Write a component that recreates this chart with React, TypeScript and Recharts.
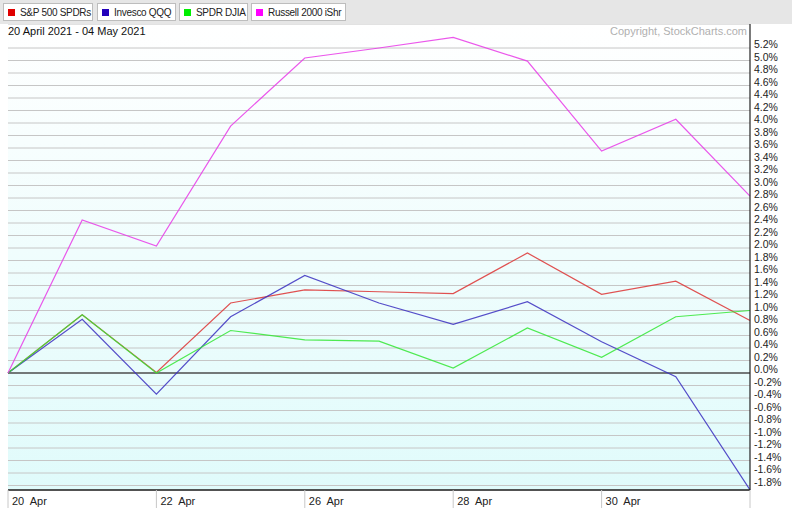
import React from "react";
import { LineChart, Line, XAxis, YAxis, CartesianGrid, ReferenceLine } from "recharts";

const categories = ["20 Apr", "21 Apr", "22 Apr", "23 Apr", "26 Apr", "27 Apr", "28 Apr", "29 Apr", "30 Apr", "3 May", "4 May"];
const spySeries = [0, 0.93, 0.01, 1.12, 1.33, 1.3, 1.27, 1.92, 1.26, 1.47, 0.84];
const qqqSeries = [0, 0.86, -0.34, 0.9, 1.56, 1.12, 0.78, 1.14, 0.5, -0.06, -1.87];
const diaSeries = [0, 0.93, 0.0, 0.68, 0.53, 0.51, 0.08, 0.72, 0.25, 0.9, 1.0];
const iwmSeries = [0, 2.45, 2.03, 3.95, 5.04, 5.2, 5.37, 4.99, 3.55, 4.06, 2.83];

const xTicks = ["20 Apr", "22 Apr", "26 Apr", "28 Apr", "30 Apr", "4 May"];
const xTickLabels: Record<string, string> = {
  "20 Apr": "20  Apr",
  "22 Apr": "22  Apr",
  "26 Apr": "26  Apr",
  "28 Apr": "28  Apr",
  "30 Apr": "30  Apr",
  "4 May": "",
};
const yTicks = [
  -1.8, -1.6, -1.4, -1.2, -1.0, -0.8, -0.6, -0.4, -0.2, 0.0, 0.2, 0.4, 0.6, 0.8, 1.0, 1.2, 1.4, 1.6, 1.8,
  2.0, 2.2, 2.4, 2.6, 2.8, 3.0, 3.2, 3.4, 3.6, 3.8, 4.0, 4.2, 4.4, 4.6, 4.8, 5.0, 5.2,
];
const yDomain = [-1.872, 5.584];

const seriesInfo = [
  { key: "spy", name: "S&P 500 SPDRs", color: "#e00000", line: "#dd3333" },
  { key: "qqq", name: "Invesco QQQ", color: "#2200bb", line: "#3a2ec0" },
  { key: "dia", name: "SPDR DJIA", color: "#00ee00", line: "#33e633" },
  { key: "iwm", name: "Russell 2000 iShr", color: "#ff00ff", line: "#e83ae8" },
];

const data = categories.map((c, i) => ({
  date: c,
  spy: spySeries[i],
  qqq: qqqSeries[i],
  dia: diaSeries[i],
  iwm: iwmSeries[i],
}));

const FONT = "'Liberation Sans', Arial, sans-serif";

const XTick = (props: any) => {
  const { x, y, payload } = props;
  const label = xTickLabels[payload.value] ?? payload.value;
  return (
    <g>
      <line x1={x} y1={y} x2={x} y2={y + 18} stroke="#c8c8c8" strokeWidth={1} />
      {label ? (
        <text x={x + 4} y={y + 15} fontSize={11} fill="#222" fontFamily={FONT} textAnchor="start" style={{ whiteSpace: "pre" }}>
          {label}
        </text>
      ) : null}
    </g>
  );
};

const YTick = (props: any) => {
  const { x, y, payload } = props;
  return (
    <text x={x} y={y} fontSize={10.5} fill="#222" fontFamily={FONT} textAnchor="start">
      {payload.value.toFixed(1) + "%"}
    </text>
  );
};

const legendLefts = [3, 97, 179, 251];
const legendWidths = [90, 79, 69, 95];

export default function App() {
  return (
    <div
      style={{
        position: "fixed",
        left: 0,
        top: 0,
        width: 792,
        height: 526,
        background: "#ffffff",
        fontFamily: FONT,
        overflow: "hidden",
      }}
    >
      <div style={{ position: "absolute", left: 0, top: 0, width: 792, height: 24, background: "#e6e6e6" }} />
      {seriesInfo.map((s, i) => (
        <div
          key={s.key}
          style={{
            position: "absolute",
            left: legendLefts[i],
            top: 3,
            width: legendWidths[i],
            height: 18,
            boxSizing: "border-box",
            background: "#ffffff",
            border: "1px solid #bdbdbd",
            fontSize: 10,
            letterSpacing: "-0.3px",
            color: "#222",
            display: "flex",
            alignItems: "center",
            whiteSpace: "nowrap",
            overflow: "hidden",
          }}
        >
          <span
            style={{
              display: "block",
              flexShrink: 0,
              width: 7,
              height: 7,
              background: s.color,
              marginLeft: 4,
              marginRight: 5,
            }}
          />
          <span>{s.name}</span>
        </div>
      ))}
      <div style={{ position: "absolute", left: 0, top: 24 }}>
        <LineChart width={792} height={502} data={data} margin={{ top: 0, right: 0, bottom: 0, left: 8 }}>
          <defs>
            <linearGradient id="plotBg" x1="0" y1="0" x2="0" y2="1">
              <stop offset="0%" stopColor="#ffffff" />
              <stop offset="100%" stopColor="#e0fbfb" />
            </linearGradient>
          </defs>
          <CartesianGrid vertical={false} stroke="#c6c6c6" fill="url(#plotBg)" fillOpacity={1} />
          <XAxis
            dataKey="date"
            ticks={xTicks}
            interval={0}
            tick={<XTick />}
            tickLine={false}
            tickSize={0}
            tickMargin={0}
            height={36}
            axisLine={{ stroke: "#222", strokeWidth: 1.5 }}
          />
          <YAxis
            orientation="right"
            type="number"
            domain={yDomain}
            allowDataOverflow
            ticks={yTicks}
            interval={0}
            tick={<YTick />}
            tickLine={false}
            tickSize={0}
            tickMargin={4}
            width={42}
            axisLine={{ stroke: "#222", strokeWidth: 1.2 }}
          />
          <ReferenceLine y={0} stroke="#111" strokeWidth={1.2} />
          {seriesInfo.map((s) => (
            <Line
              key={s.key}
              type="linear"
              dataKey={s.key}
              name={s.name}
              stroke={s.line}
              strokeWidth={1.2}
              strokeOpacity={0.85}
              dot={false}
              activeDot={false}
              isAnimationActive={false}
            />
          ))}
        </LineChart>
      </div>
      <div style={{ position: "absolute", left: 8, top: 24, fontSize: 11, color: "#111", lineHeight: "14px" }}>
        20 April 2021 - 04 May 2021
      </div>
      <div style={{ position: "absolute", right: 45, top: 24, fontSize: 11, color: "#b0b0b0", lineHeight: "14px" }}>
        Copyright, StockCharts.com
      </div>
    </div>
  );
}
